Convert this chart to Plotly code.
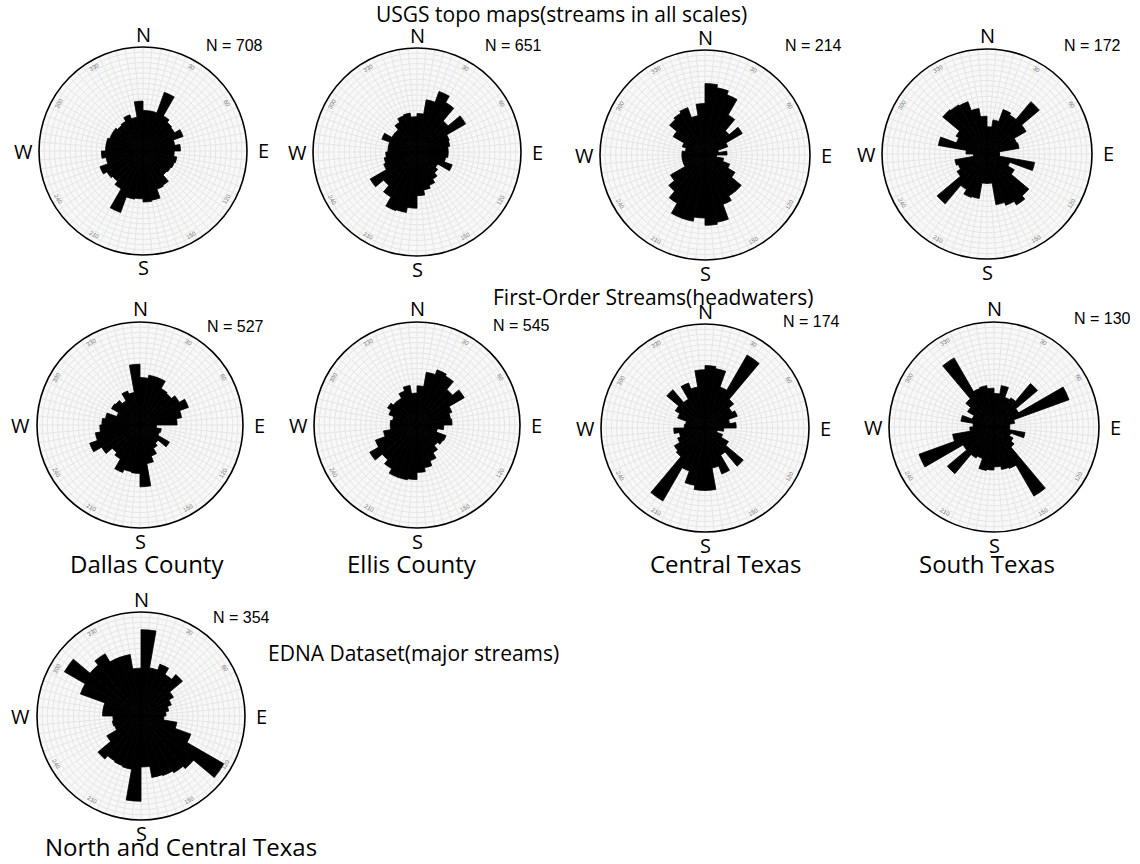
import math
import plotly.graph_objects as go

W, H = 1140, 864

# 10-degree direction bins (compass degrees, clockwise from north)
bin_centers = list(range(5, 360, 10))

# Relative frequency per bin, 0-10°, 10-20°, ... 350-360°
usgs_dallas = [3.9, 3.9, 6.0, 3.9, 3.6, 3.5, 4.1, 3.1, 3.6, 3.0, 3.3, 3.2,
               3.1, 3.0, 3.8, 3.9, 4.8, 4.9, 4.6, 4.7, 6.3, 4.2, 3.8, 4.0,
               4.4, 3.6, 4.0, 3.6, 3.6, 3.4, 3.4, 3.2, 3.3, 3.7, 3.3, 4.8]
usgs_ellis = [3.7, 5.1, 6.2, 5.5, 3.9, 5.4, 3.3, 3.2, 3.0, 3.0, 2.8, 3.6,
              2.3, 2.6, 3.0, 3.4, 3.7, 4.2, 5.4, 5.9, 6.0, 5.0, 4.2, 5.2,
              3.4, 3.2, 3.0, 2.8, 2.8, 3.6, 2.8, 2.8, 3.3, 3.7, 3.8, 3.4]
usgs_central = [6.8, 6.5, 6.1, 4.4, 3.0, 4.1, 2.3, 1.3, 2.1, 1.1, 1.8, 2.5,
                3.3, 4.5, 4.5, 5.0, 6.5, 6.7, 6.0, 6.4, 6.4, 5.3, 4.5, 3.8,
                2.2, 2.2, 2.2, 2.2, 1.9, 2.3, 3.5, 4.4, 4.6, 4.8, 3.8, 4.9]
usgs_south = [2.6, 3.3, 4.5, 4.3, 6.5, 4.3, 3.0, 3.1, 1.2, 1.2, 4.6, 2.3,
              3.0, 5.2, 5.6, 5.2, 4.9, 2.8, 2.8, 4.3, 4.4, 3.9, 6.2, 3.3,
              2.9, 3.1, 1.3, 2.0, 4.7, 3.1, 3.4, 5.5, 5.4, 5.3, 4.4, 3.6]
first_dallas = [4.6, 4.9, 4.9, 4.1, 4.0, 4.4, 5.0, 4.1, 3.6, 1.6, 2.1, 2.0,
                3.3, 2.3, 2.6, 3.2, 3.8, 6.0, 4.7, 4.6, 4.9, 3.8, 3.5, 4.3,
                5.2, 4.4, 3.9, 3.7, 3.4, 2.4, 3.2, 3.1, 2.7, 3.5, 3.2, 5.9]
first_ellis = [3.8, 5.2, 5.7, 5.5, 4.5, 5.3, 3.6, 3.3, 3.4, 2.6, 2.0, 3.0,
               2.9, 2.6, 3.1, 3.7, 4.2, 4.6, 5.3, 5.4, 5.4, 4.9, 4.4, 5.3,
               4.3, 3.3, 2.6, 2.6, 2.4, 2.9, 3.3, 3.0, 3.0, 3.5, 3.9, 3.1]
first_central = [6.0, 5.8, 4.2, 8.1, 3.6, 3.0, 3.3, 2.4, 3.0, 1.8, 1.2, 1.8,
                 2.6, 4.8, 3.0, 4.7, 3.9, 6.0, 6.0, 5.6, 4.4, 8.1, 3.6, 3.4,
                 2.8, 2.5, 3.0, 2.0, 1.9, 2.8, 3.3, 4.8, 3.2, 4.6, 4.0, 5.6]
first_south = [3.2, 4.0, 3.0, 3.2, 5.4, 2.7, 7.6, 2.0, 1.5, 1.5, 3.0, 1.7,
               2.1, 2.5, 7.6, 4.2, 4.1, 3.8, 4.1, 4.2, 3.2, 3.4, 5.8, 3.4,
               7.6, 4.0, 2.3, 2.0, 3.2, 2.2, 2.9, 3.5, 7.6, 3.9, 4.0, 3.7]
edna_ntx = [8.3, 4.7, 5.3, 4.6, 5.2, 3.6, 3.1, 2.7, 2.4, 2.2, 3.5, 5.1,
            9.2, 6.6, 6.3, 6.1, 6.0, 4.9, 8.2, 5.2, 5.1, 5.0, 5.4, 3.8,
            2.7, 2.8, 2.7, 3.7, 3.7, 6.2, 8.5, 6.4, 6.9, 6.0, 6.0, 4.6]

counts = ["N = 708", "N = 651", "N = 214", "N = 172",
          "N = 527", "N = 545", "N = 174", "N = 130", "N = 354"]
series = [usgs_dallas, usgs_ellis, usgs_central, usgs_south,
          first_dallas, first_ellis, first_central, first_south, edna_ntx]

region_labels = ["Dallas County", "Ellis County", "Central Texas", "South Texas",
                 "North and Central Texas"]
group_titles = ["USGS topo maps(streams in all scales)",
                "First-Order Streams(headwaters)",
                "EDNA Dataset(major streams)"]
compass = ["N", "E", "S", "W"]
degree_ticks = [30, 60, 120, 150, 210, 240, 300, 330]

# Panel layout in pixels: centre x, centre y, radius
panels = [(143, 151, 104), (417, 152, 104), (705, 155, 105), (987, 154, 105),
          (140, 425, 103), (417, 425, 103), (705, 428, 104), (994, 427, 105),
          (141, 716, 104)]
count_pos = [(234, 46), (513, 46), (813, 46), (1092, 46),
             (235, 326), (521, 325), (811, 322), (1102, 318), (241, 617)]
region_pos = [(147, 563), (412, 563), (725, 563), (987, 563), (181, 846)]
title_pos = [(561, 14), (653, 297), (413, 653)]

TITLE_FONT = "Open Sans, Noto Sans, sans-serif"
ARIAL = "Liberation Sans, Arial, sans-serif"


def px(x, y):
    return x / W, 1 - y / H


fig = go.Figure()
layout = {}
annotations = []

for i, (vals, (cx, cy, R)) in enumerate(zip(series, panels)):
    key = "polar" if i == 0 else f"polar{i + 1}"
    fig.add_trace(go.Barpolar(
        r=vals, theta=bin_centers, width=[10] * len(bin_centers),
        marker=dict(color="black", line=dict(color="black", width=0.8)),
        subplot=key, showlegend=False,
    ))
    layout[key] = dict(
        domain=dict(x=[(cx - R) / W, (cx + R) / W],
                    y=[1 - (cy + R) / H, 1 - (cy - R) / H]),
        bgcolor="#f8f8f8",
        radialaxis=dict(range=[0, 10], dtick=0.5, showticklabels=False,
                        ticks="", showline=False, gridcolor="#e6e6e6",
                        gridwidth=0.5),
        angularaxis=dict(rotation=90, direction="clockwise", dtick=5,
                         showticklabels=False, ticks="", showline=True,
                         linecolor="black", linewidth=1.6,
                         gridcolor="#e6e6e6", gridwidth=0.5),
        bargap=0,
    )
    # compass letters outside the ring
    for k, lab in enumerate(compass):
        ang = math.radians(k * 90)
        off = R + (13 if lab in ("N", "S") else 16)
        x, y = px(cx + off * math.sin(ang), cy - off * math.cos(ang))
        annotations.append(dict(x=x, y=y, xref="paper", yref="paper",
                                text=lab, showarrow=False,
                                font=dict(family=TITLE_FONT, size=20, color="black"),
                                xanchor="center", yanchor="middle"))
    # small degree labels just inside the ring
    for d in degree_ticks:
        ang = math.radians(d)
        rr = R - 7
        x, y = px(cx + rr * math.sin(ang), cy - rr * math.cos(ang))
        rot = d if d <= 90 or d >= 270 else d - 180
        annotations.append(dict(x=x, y=y, xref="paper", yref="paper",
                                text=str(d), showarrow=False, textangle=rot,
                                font=dict(family=ARIAL, size=6, color="#808080"),
                                xanchor="center", yanchor="middle"))
    x, y = px(*count_pos[i])
    annotations.append(dict(x=x, y=y, xref="paper", yref="paper",
                            text=counts[i], showarrow=False,
                            font=dict(family=ARIAL, size=16, color="black"),
                            xanchor="center", yanchor="middle"))

for lab, pos in zip(region_labels, region_pos):
    x, y = px(*pos)
    annotations.append(dict(x=x, y=y, xref="paper", yref="paper", text=lab,
                            showarrow=False,
                            font=dict(family=TITLE_FONT, size=24, color="black"),
                            xanchor="center", yanchor="middle"))

for lab, pos in zip(group_titles, title_pos):
    x, y = px(*pos)
    annotations.append(dict(x=x, y=y, xref="paper", yref="paper", text=lab,
                            showarrow=False,
                            font=dict(family=TITLE_FONT, size=21, color="black"),
                            xanchor="center", yanchor="middle"))

fig.update_layout(width=W, height=H, margin=dict(l=0, r=0, t=0, b=0),
                  paper_bgcolor="white", plot_bgcolor="white",
                  annotations=annotations, **layout)

fig.write_html("out.html")
